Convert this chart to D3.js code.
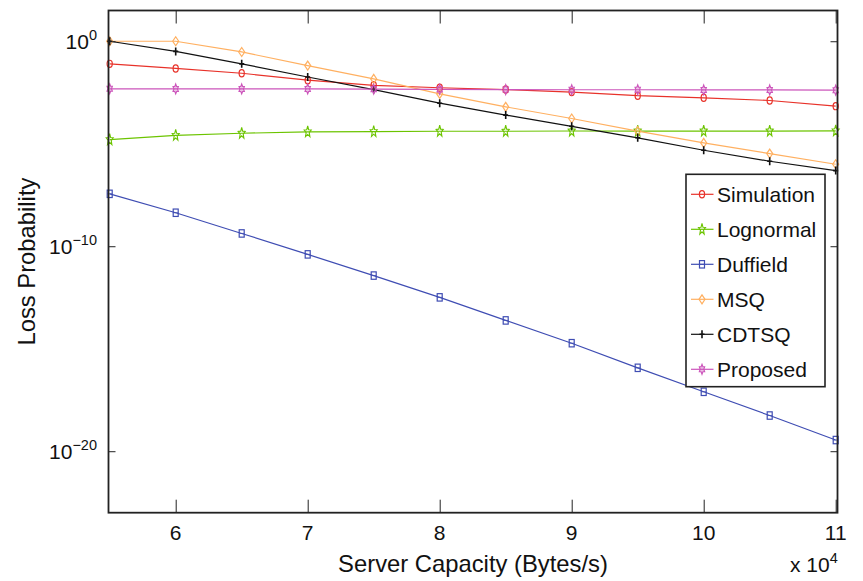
<!DOCTYPE html>
<html>
<head>
<meta charset="utf-8">
<script src="https://cdn.jsdelivr.net/npm/d3@7"></script>
<style>
  body { margin: 0; background: #fff; }
  svg { display: block; font-family: "Liberation Sans", Arial, Helvetica, sans-serif; }
</style>
</head>
<body>
<svg id="chart" width="863" height="581"></svg>
<script>
// ---- data ----
const capacity = [55000, 60000, 65000, 70000, 75000, 80000, 85000, 90000, 95000, 100000, 105000, 110000];
const simulation = [7.9e-2, 4.7e-2, 2.75e-2, 1.26e-2, 7.1e-3, 5.4e-3, 4.4e-3, 3.3e-3, 2.2e-3, 1.74e-3, 1.29e-3, 6.8e-4];
const lognormal  = [1.58e-5, 2.57e-5, 3.24e-5, 3.8e-5, 3.9e-5, 4.07e-5, 4.07e-5, 4.17e-5, 4.17e-5, 4.17e-5, 4.17e-5, 4.27e-5];
const duffield   = [3.6e-8, 4.3e-9, 4.2e-10, 4.0e-11, 3.7e-12, 3.2e-13, 2.4e-14, 1.86e-15, 1.17e-16, 7.9e-18, 5.5e-19, 3.5e-20];
const msq        = [1.0, 1.0, 0.30, 6.5e-2, 1.45e-2, 2.7e-3, 6.3e-4, 1.7e-4, 4.1e-5, 1.1e-5, 3.3e-6, 1.0e-6];
const cdtsq      = [1.0, 0.32, 7.9e-2, 1.8e-2, 4.4e-3, 9.5e-4, 2.5e-4, 7.1e-5, 1.95e-5, 4.8e-6, 1.4e-6, 4.9e-7];
const proposed   = [4.8e-3, 4.7e-3, 4.7e-3, 4.7e-3, 4.6e-3, 4.5e-3, 4.4e-3, 4.3e-3, 4.3e-3, 4.2e-3, 4.2e-3, 4.1e-3];
const seriesNames = ["Simulation", "Lognormal", "Duffield", "MSQ", "CDTSQ", "Proposed"];
const xTicks = [60000, 70000, 80000, 90000, 100000, 110000];
const yTicks = [1e-20, 1e-10, 1];
const yTickExponents = ["−20", "−10", "0"];

// ---- layout ----
const svg = d3.select("#chart");
const L = 108.5, R = 837.5, T = 10.5, B = 512.7;
const x = d3.scaleLinear().domain([55000, 110000]).range([109.7, 835.7]);
const y = d3.scaleLog().domain([1e-23, Math.pow(10, 1.5)]).range([B, T]);

const styles = [
  { color: "#e8322a", marker: "circle" },
  { color: "#6cc400", marker: "star5" },
  { color: "#3f4db3", marker: "square" },
  { color: "#ffb061", marker: "diamond" },
  { color: "#111111", marker: "plus" },
  { color: "#cc55bb", marker: "star6" }
];
const data = [simulation, lognormal, duffield, msq, cdtsq, proposed];

function drawMarker(g, type, cx, cy, color) {
  const sx = 0.62; // markers appear horizontally compressed
  if (type === "circle") {
    g.append("ellipse").attr("cx", cx).attr("cy", cy).attr("rx", 2.6).attr("ry", 3.6)
      .attr("fill", "none").attr("stroke", color).attr("stroke-width", 1.2);
  } else if (type === "square") {
    g.append("rect").attr("x", cx - 2.5).attr("y", cy - 3.7).attr("width", 5).attr("height", 7.4)
      .attr("fill", "none").attr("stroke", color).attr("stroke-width", 1.2);
    g.append("line").attr("x1", cx - 2.5).attr("x2", cx + 2.5).attr("y1", cy).attr("y2", cy)
      .attr("stroke", color).attr("stroke-width", 0.8);
  } else if (type === "diamond") {
    g.append("path").attr("d", `M${cx},${cy - 4.5}L${cx + 3},${cy}L${cx},${cy + 4.5}L${cx - 3},${cy}Z`)
      .attr("fill", "none").attr("stroke", color).attr("stroke-width", 1.2);
  } else if (type === "plus") {
    g.append("path").attr("d", `M${cx},${cy - 4}L${cx},${cy + 4}M${cx - 2.5},${cy}L${cx + 2.5},${cy}`)
      .attr("stroke", color).attr("stroke-width", 1.6);
  } else if (type === "star5" || type === "star6") {
    const n = type === "star5" ? 5 : 6;
    const ro = type === "star5" ? 6 : 5, ri = type === "star5" ? 2.6 : 2.9;
    let pts = [];
    for (let i = 0; i < 2 * n; i++) {
      const a = -Math.PI / 2 + i * Math.PI / n;
      const r = i % 2 === 0 ? ro : ri;
      pts.push([cx + r * Math.cos(a) * sx, cy + r * Math.sin(a)]);
    }
    g.append("path").attr("d", "M" + pts.map(p => p.join(",")).join("L") + "Z")
      .attr("fill", type === "star6" ? color : "none").attr("fill-opacity", type === "star6" ? 0.35 : 0)
      .attr("stroke", color).attr("stroke-width", 1.1);
  }
}

// ---- series ----
const line = d3.line().x((d, i) => x(capacity[i])).y(d => y(d));
const plotG = svg.append("g");
data.forEach((vals, k) => {
  plotG.append("path").datum(vals).attr("d", line)
    .attr("fill", "none").attr("stroke", styles[k].color).attr("stroke-width", 1.2);
});
data.forEach((vals, k) => {
  vals.forEach((v, i) => drawMarker(plotG, styles[k].marker, x(capacity[i]), y(v), styles[k].color));
});

// ---- axes (box with inward ticks) ----
const axisColor = "#222";
svg.append("g").attr("transform", `translate(0,${B})`)
  .call(d3.axisBottom(x).tickValues(xTicks).tickSize(-13).tickFormat(""))
  .call(g => g.select(".domain").remove())
  .call(g => g.selectAll("line").attr("stroke", axisColor).attr("stroke-width", 1));
svg.append("g").attr("transform", `translate(0,${T})`)
  .call(d3.axisTop(x).tickValues(xTicks).tickSize(-13).tickFormat(""))
  .call(g => g.select(".domain").remove())
  .call(g => g.selectAll("line").attr("stroke", axisColor).attr("stroke-width", 1));
svg.append("g").attr("transform", `translate(${L},0)`)
  .call(d3.axisLeft(y).tickValues(yTicks).tickSize(-7).tickFormat(""))
  .call(g => g.select(".domain").remove())
  .call(g => g.selectAll("line").attr("stroke", axisColor).attr("stroke-width", 1));
svg.append("g").attr("transform", `translate(${R},0)`)
  .call(d3.axisRight(y).tickValues(yTicks).tickSize(-7).tickFormat(""))
  .call(g => g.select(".domain").remove())
  .call(g => g.selectAll("line").attr("stroke", axisColor).attr("stroke-width", 1));

svg.append("rect").attr("x", L).attr("y", T).attr("width", R - L).attr("height", B - T)
  .attr("fill", "none").attr("stroke", axisColor).attr("stroke-width", 1.8);

// x tick labels
xTicks.forEach(t => {
  svg.append("text").attr("x", x(t)).attr("y", 540).attr("text-anchor", "middle")
    .attr("font-size", 21).attr("fill", "#111").text(t / 1e4);
});
// y tick labels with superscripts
yTicks.forEach((t, i) => {
  const tx = svg.append("text").attr("x", 97).attr("y", y(t) + 7.5).attr("text-anchor", "end")
    .attr("font-size", 21).attr("fill", "#111");
  tx.append("tspan").text("10");
  tx.append("tspan").attr("dy", -9).attr("font-size", 14.5).text(yTickExponents[i]);
});
// x scale multiplier
const mult = svg.append("text").attr("x", 790).attr("y", 572).attr("font-size", 21).attr("fill", "#111");
mult.append("tspan").text("x 10");
mult.append("tspan").attr("dy", -9).attr("font-size", 14.5).text("4");

// axis titles
svg.append("text").attr("x", (L + R) / 2).attr("y", 572).attr("text-anchor", "middle")
  .attr("font-size", 23.8).attr("fill", "#111").text("Server Capacity (Bytes/s)");
svg.append("text").attr("transform", `translate(35,${(T + B) / 2}) rotate(-90)`).attr("text-anchor", "middle")
  .attr("font-size", 23.8).attr("fill", "#111").text("Loss Probability");

// ---- legend ----
const lg = svg.append("g");
lg.append("rect").attr("x", 686).attr("y", 174.3).attr("width", 139).attr("height", 212.4)
  .attr("fill", "#fff").attr("stroke", axisColor).attr("stroke-width", 1.6);
const rowY = d3.scaleLinear().domain([0, 5]).range([194.3, 369.3]);
seriesNames.forEach((name, k) => {
  const yy = rowY(k);
  lg.append("line").attr("x1", 691).attr("x2", 713.5).attr("y1", yy).attr("y2", yy)
    .attr("stroke", styles[k].color).attr("stroke-width", 1.2);
  drawMarker(lg, styles[k].marker, 702, yy, styles[k].color);
  lg.append("text").attr("x", 717).attr("y", yy + 7.5).attr("font-size", 21).attr("fill", "#111").text(name);
});
</script>
</body>
</html>
